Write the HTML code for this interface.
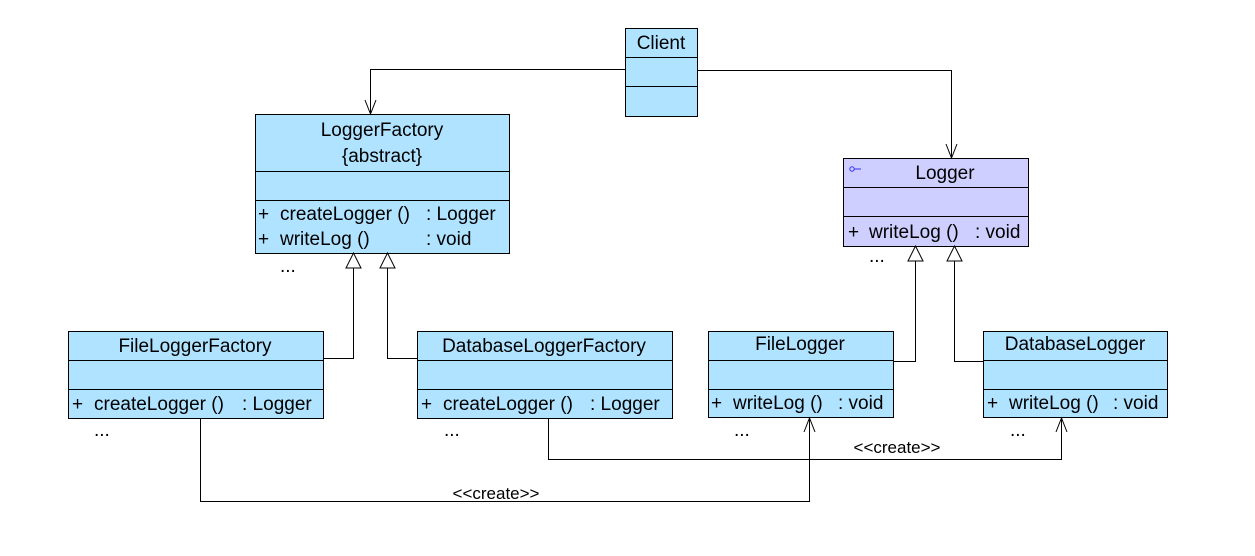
<!DOCTYPE html>
<html><head><meta charset="utf-8"><style>
body{margin:0;background:#fff;}
svg{display:block;font-family:"Liberation Sans",Arial,sans-serif;}
</style></head><body>
<svg width="1255" height="556" viewBox="0 0 1255 556" xmlns="http://www.w3.org/2000/svg">
<g stroke="#000" stroke-width="1" fill="#B0E3FF">
<rect x="625.5" y="28.5" width="72" height="88"/>
<line x1="625" y1="57.5" x2="697" y2="57.5"/><line x1="625" y1="86.5" x2="697" y2="86.5"/>
<rect x="255.5" y="114.5" width="254" height="139"/>
<line x1="255" y1="171.5" x2="509" y2="171.5"/><line x1="255" y1="200.5" x2="509" y2="200.5"/>
<rect x="843.5" y="158.5" width="185" height="88" fill="#CFCFFF"/>
<line x1="843" y1="187.5" x2="1028" y2="187.5"/><line x1="843" y1="216.5" x2="1028" y2="216.5"/>
<rect x="68.5" y="331.5" width="255" height="87"/>
<line x1="68" y1="360.5" x2="323" y2="360.5"/><line x1="68" y1="389.5" x2="323" y2="389.5"/>
<rect x="417.5" y="331.5" width="255" height="87"/>
<line x1="417" y1="360.5" x2="672" y2="360.5"/><line x1="417" y1="389.5" x2="672" y2="389.5"/>
<rect x="708.5" y="331.5" width="185" height="86"/>
<line x1="708" y1="360.5" x2="893" y2="360.5"/><line x1="708" y1="389.5" x2="893" y2="389.5"/>
<rect x="983.5" y="331.5" width="184" height="86"/>
<line x1="983" y1="360.5" x2="1167" y2="360.5"/><line x1="983" y1="389.5" x2="1167" y2="389.5"/>
</g>
<g stroke="#000" stroke-width="1" fill="none">
<polyline points="625,69.5 370.5,69.5 370.5,114"/>
<polyline points="365,100 370.5,114 376,100"/>
<polyline points="697,70.5 951.5,70.5 951.5,158"/>
<polyline points="946,144 951.5,158 957,144"/>
<polyline points="323,358.5 353.5,358.5 353.5,268"/>
<polyline points="417,358.5 387.5,358.5 387.5,268"/>
<polyline points="893,361.5 915.5,361.5 915.5,261"/>
<polyline points="983,361.5 954.5,361.5 954.5,261"/>
<polyline points="200.5,418 200.5,501.5 809.5,501.5 809.5,418"/>
<polyline points="804,432 809.5,418 815,432"/>
<polyline points="548.5,418 548.5,459.5 1061.5,459.5 1061.5,418"/>
<polyline points="1056,432 1061.5,418 1067,432"/>
</g>
<g stroke="#000" fill="#fff">
<polygon points="353.5,253 346,268 361,268"/>
<polygon points="387.5,253 380,268 395,268"/>
<polygon points="915.5,246 908,261 923,261"/>
<polygon points="954.5,246 947,261 962,261"/>
</g>
<g stroke="#3030ff" fill="none"><circle cx="852" cy="169" r="2.2"/><line x1="854" y1="169" x2="861" y2="169"/></g>
<g font-size="19" fill="#000">
<text x="661" y="49" text-anchor="middle">Client</text>
<text x="382" y="136" text-anchor="middle">LoggerFactory</text>
<text x="382" y="162" text-anchor="middle">{abstract}</text>
<text x="258" y="220">+</text><text x="280" y="220">createLogger ()</text><text x="426" y="220">: Logger</text>
<text x="258" y="245">+</text><text x="280" y="245">writeLog ()</text><text x="426" y="245">: void</text>
<text x="945" y="179" text-anchor="middle">Logger</text>
<text x="848" y="238">+</text><text x="869" y="238">writeLog ()</text><text x="975" y="238">: void</text>
<text x="195" y="352" text-anchor="middle">FileLoggerFactory</text>
<text x="72" y="410">+</text><text x="94" y="410">createLogger ()</text><text x="242" y="410">: Logger</text>
<text x="544" y="352" text-anchor="middle">DatabaseLoggerFactory</text>
<text x="421" y="410">+</text><text x="443" y="410">createLogger ()</text><text x="590" y="410">: Logger</text>
<text x="800" y="350" text-anchor="middle">FileLogger</text>
<text x="711" y="409">+</text><text x="733" y="409">writeLog ()</text><text x="838" y="409">: void</text>
<text x="1075" y="350" text-anchor="middle">DatabaseLogger</text>
<text x="987" y="409">+</text><text x="1009" y="409">writeLog ()</text><text x="1113" y="409">: void</text>
<text x="280" y="272">...</text>
<text x="869" y="262">...</text>
<text x="94" y="436">...</text>
<text x="444" y="436">...</text>
<text x="734" y="436">...</text>
<text x="1010" y="436">...</text>
</g>
<g font-size="17" fill="#000">
<text x="496" y="499" text-anchor="middle">&lt;&lt;create&gt;&gt;</text>
<text x="897" y="453" text-anchor="middle">&lt;&lt;create&gt;&gt;</text>
</g>
</svg>
</body></html>
